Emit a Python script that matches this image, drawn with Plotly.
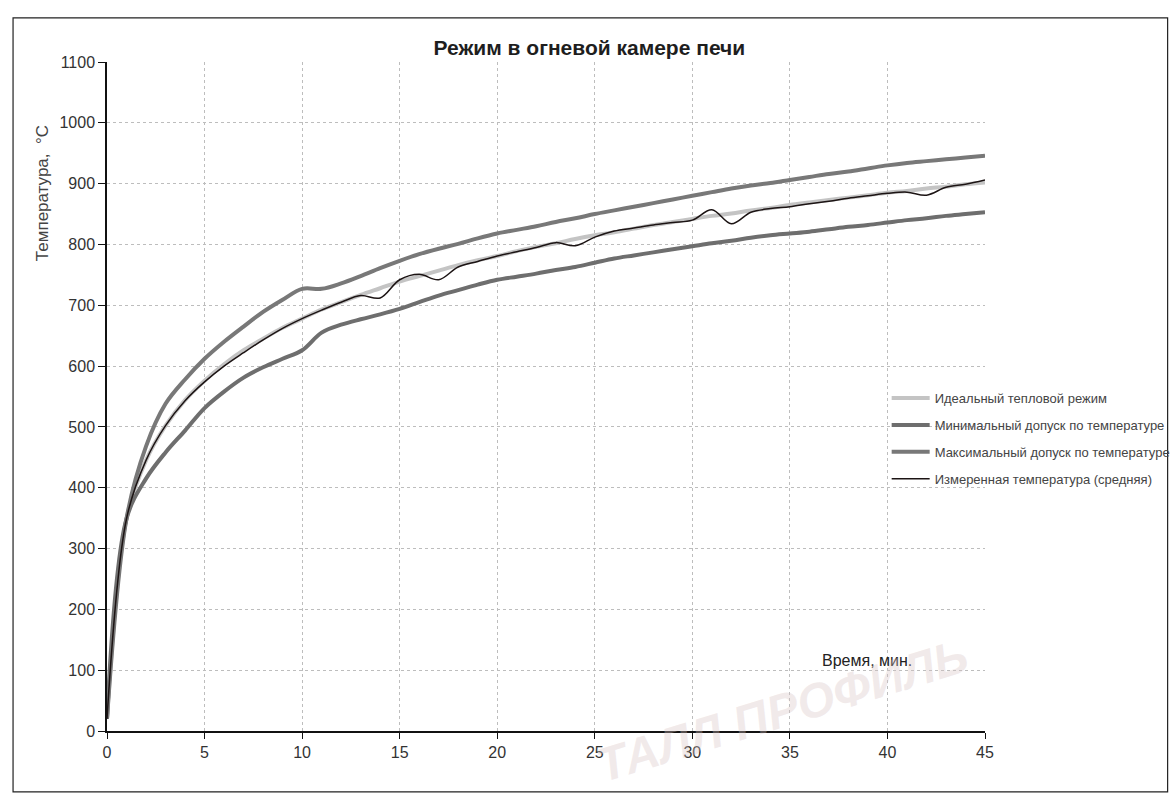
import plotly.graph_objects as go

# Time, minutes
minutes = list(range(0, 46))

# Ideal heating regime, °C
ideal = [20, 349, 445, 502, 544, 576, 603, 626, 645, 663,
         678, 693, 705, 717, 728, 739, 748, 757, 766, 774,
         781, 789, 796, 802, 809, 815, 820, 826, 832, 837,
         842, 847, 851, 856, 860, 865, 869, 873, 877, 881,
         885, 888, 892, 895, 899, 902]

# Lower tolerance, °C
t_min = [20, 349, 415, 458, 494, 531, 558, 581, 598, 612,
         626, 655, 668, 677, 685, 694, 705, 716, 725, 734,
         742, 747, 752, 758, 763, 770, 777, 782, 787, 792,
         797, 802, 806, 811, 815, 818, 821, 825, 829, 832,
         836, 840, 843, 847, 850, 853]

# Upper tolerance, °C
t_max = [20, 349, 468, 538, 578, 612, 640, 665, 689, 709,
         727, 727, 736, 748, 761, 773, 784, 793, 801, 810,
         818, 824, 830, 837, 843, 850, 856, 862, 868, 874,
         880, 886, 892, 897, 901, 906, 911, 916, 920, 925,
         930, 934, 937, 940, 943, 946]

# Measured (average) temperature, °C
measured = [20, 349, 445, 502, 543, 574, 600, 622, 643, 662,
            678, 692, 705, 716, 712, 742, 751, 742, 763, 772,
            781, 788, 795, 803, 798, 812, 822, 827, 832, 836,
            840, 857, 834, 853, 859, 862, 867, 871, 876, 880,
            884, 886, 881, 894, 899, 906]

x_ticks = [0, 5, 10, 15, 20, 25, 30, 35, 40, 45]
y_ticks = [0, 100, 200, 300, 400, 500, 600, 700, 800, 900, 1000, 1100]

FONT = "Liberation Sans, Arial, sans-serif"

fig = go.Figure()

fig.add_trace(go.Scatter(
    x=minutes, y=ideal, mode="lines", line_shape="spline",
    name="Идеальный тепловой режим", legendgroup="a",
    line=dict(color="#c4c4c4", width=4)))
fig.add_trace(go.Scatter(
    x=minutes, y=t_min, mode="lines", line_shape="spline",
    name="Минимальный допуск по температуре", legendgroup="b",
    line=dict(color="#6e6e6e", width=4)))
fig.add_trace(go.Scatter(
    x=minutes, y=t_max, mode="lines", line_shape="spline",
    name="Максимальный допуск по температуре", legendgroup="c",
    line=dict(color="#787878", width=4)))
fig.add_trace(go.Scatter(
    x=minutes, y=measured, mode="lines", line_shape="spline",
    name="Измеренная температура (средняя)", legendgroup="d",
    line=dict(color="#1c1414", width=1.5)))

fig.update_layout(
    width=1174, height=798,
    margin=dict(l=107, r=189, t=62, b=67, autoexpand=False),
    paper_bgcolor="white", plot_bgcolor="white",
    font=dict(family=FONT, color="#333333"),
    title=dict(text="<b>Режим в огневой камере печи</b>", xref="container",
               x=0.502, xanchor="center", y=0.94, yanchor="middle",
               font=dict(size=21, color="#1e1e1e", family=FONT)),
    showlegend=True,
    legend=dict(x=0.888, y=0.52, xanchor="left", yanchor="top",
                bgcolor="rgba(0,0,0,0)", font=dict(size=13, color="#444444"),
                tracegroupgap=7, itemwidth=38),
)

fig.update_xaxes(
    range=[0, 45], tickvals=x_ticks, ticks="outside", ticklen=6,
    tickcolor="#111111", showline=True, linecolor="#111111", linewidth=1.5,
    showgrid=True, gridcolor="#bdbdbd", griddash="dot", gridwidth=1,
    zeroline=False, tickfont=dict(size=16, color="#333333"))
fig.update_yaxes(
    range=[0, 1100], tickvals=y_ticks, ticks="outside", ticklen=7,
    tickcolor="#111111", showline=True, linecolor="#111111", linewidth=1.5,
    showgrid=True, gridcolor="#bdbdbd", griddash="dot", gridwidth=1,
    zeroline=False, tickfont=dict(size=16, color="#333333"))

# Axis captions
fig.add_annotation(text="Температура,  °С", xref="paper", yref="paper",
                   x=-0.074, y=0.804, xanchor="center", yanchor="middle",
                   textangle=-90, showarrow=False,
                   font=dict(size=17, color="#444444"))
fig.add_annotation(text="Время, мин.", xref="paper", yref="paper",
                   x=0.866, y=0.106, xanchor="center", yanchor="middle",
                   showarrow=False, font=dict(size=16, color="#222222"))

# Faint watermark near the bottom
fig.add_annotation(text="<b><i>ТАЛЛ ПРОФИЛЬ</i></b>", xref="paper", yref="paper",
                   x=0.769, y=0.031, xanchor="center", yanchor="middle",
                   textangle=-17, showarrow=False,
                   font=dict(size=48, color="rgba(215,195,195,0.35)"))

# Chart frame
fig.add_shape(type="rect", xref="paper", yref="paper",
              x0=-0.107, x1=1.208, y0=-0.091, y1=1.066,
              line=dict(color="#222222", width=1.2))

fig.write_html("out.html")
